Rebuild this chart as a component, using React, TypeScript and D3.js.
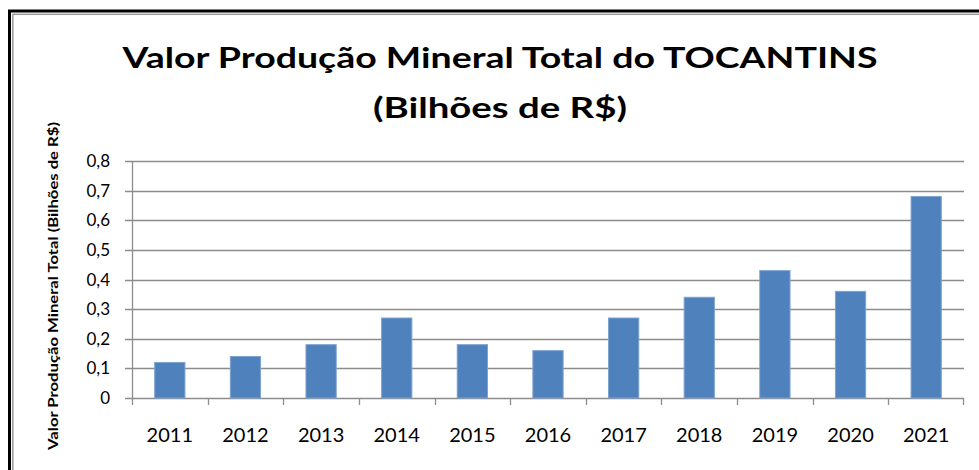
import React from "react";
import * as d3 from "d3";

const years = ["2011","2012","2013","2014","2015","2016","2017","2018","2019","2020","2021"];
const values = [0.12, 0.14, 0.18, 0.27, 0.18, 0.16, 0.27, 0.34, 0.43, 0.36, 0.68];
const yTicks = [0, 0.1, 0.2, 0.3, 0.4, 0.5, 0.6, 0.7, 0.8];
const titleLines = ["Valor Produção Mineral Total do TOCANTINS", "(Bilhões de R$)"];
const yAxisTitle = "Valor Produção Mineral Total (Bilhões de R$)";

const W = 979, H = 470;
const plot = { left: 132, right: 964, top: 161, bottom: 398 };

export default function App() {
  const x = d3.scaleBand<string>().domain(years).range([plot.left, plot.right]).paddingInner(0.6).paddingOuter(0.3);
  const xb = d3.scaleBand<string>().domain(years).range([plot.left, plot.right]);
  const y = d3.scaleLinear().domain([0, 0.8]).range([plot.bottom, plot.top]);
  const fmt = (v: number) => (v === 0 ? "0" : d3.format(".1f")(v).replace(".", ","));
  const grid = "#8c8c8c";
  return (
    <svg width={W} height={H} style={{ position: "absolute", left: 0, top: 0, display: "block", background: "#fff" }}>
      <rect x={9.5} y={11} width={1000} height={600} fill="none" stroke="#000" strokeWidth={3} />
      <rect x={12.8} y={14.3} width={1000} height={600} fill="none" stroke="#9a9a9a" strokeWidth={1.5} />
      {titleLines.map((t, i) => (
        <text key={i} x={500} y={68 + i * 50} textAnchor="middle" fontFamily="Lato" fontWeight="bold" fontSize={28.5}
          textLength={i === 0 ? 755 : 254} lengthAdjust="spacingAndGlyphs" fill="#000">{t}</text>
      ))}
      <text transform={`translate(58,286) rotate(-90)`} textAnchor="middle" fontFamily="Lato" fontWeight="bold" fontSize={14}
        textLength={328} lengthAdjust="spacingAndGlyphs" fill="#000">{yAxisTitle}</text>
      {yTicks.map((t) => (
        <g key={t}>
          <line x1={125} x2={plot.right} y1={Math.round(y(t)) + 0.5} y2={Math.round(y(t)) + 0.5} stroke={grid} strokeWidth={1.3} />
          <text x={110} y={y(t)} dy="0.36em" textAnchor="end" fontFamily="Lato" fontSize={17} fill="#000">{fmt(t)}</text>
        </g>
      ))}
      <line x1={plot.left + 0.5} x2={plot.left + 0.5} y1={plot.top} y2={plot.bottom} stroke={grid} strokeWidth={1.3} />
      {years.map((yr) => (
        <line key={"t" + yr} x1={Math.round(xb(yr)!) + 0.5} x2={Math.round(xb(yr)!) + 0.5} y1={plot.bottom} y2={plot.bottom + 7} stroke={grid} strokeWidth={1.3} />
      ))}
      <line x1={plot.right - 0.5} x2={plot.right - 0.5} y1={plot.bottom} y2={plot.bottom + 7} stroke={grid} strokeWidth={1.3} />
      {years.map((yr, i) => (
        <rect key={"b" + yr} x={x(yr)!} y={y(values[i])} width={x.bandwidth()} height={plot.bottom - y(values[i])}
          fill="#4F81BD" stroke="#7FA3D1" strokeWidth={1} />
      ))}
      {years.map((yr) => (
        <text key={"l" + yr} x={xb(yr)! + xb.bandwidth() / 2} y={442} textAnchor="middle" fontFamily="Lato" fontSize={20} fill="#000">{yr}</text>
      ))}
    </svg>
  );
}
